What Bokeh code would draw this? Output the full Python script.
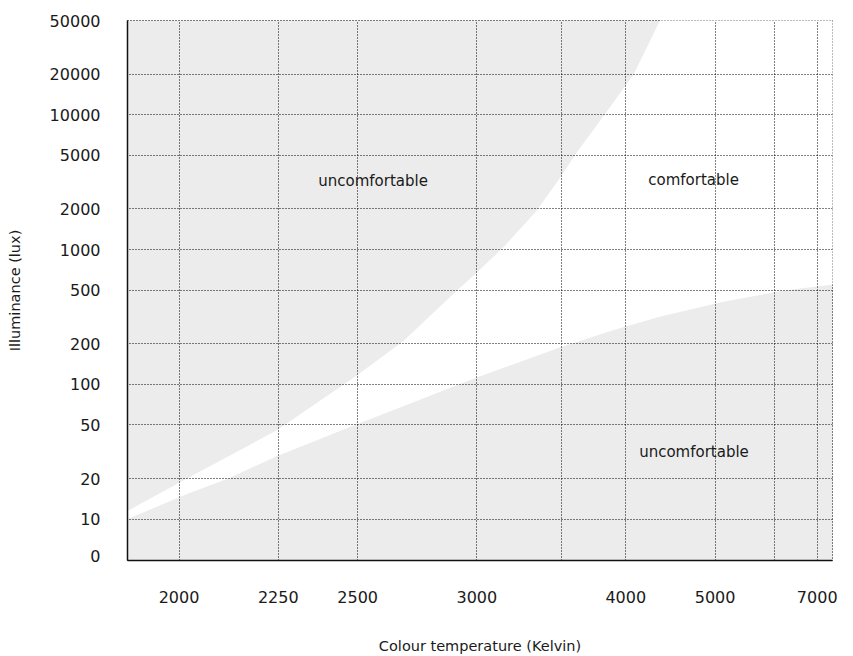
import numpy as np
from bokeh.plotting import figure
from bokeh.models import Range1d, FixedTicker, CustomJSTickFormatter, ColumnDataSource
from bokeh.core.properties import value
from bokeh.embed import file_html
from bokeh.resources import INLINE

# ---- data (colour temperature in Kelvin, illuminance in lux) ----
x_tick_kelvin = [2000, 2250, 2500, 3000, 4000, 5000, 7000]
x_grid_kelvin = [2000, 2250, 2500, 3000, 3500, 4000, 5000, 6000, 7000]
y_tick_lux = [10, 20, 50, 100, 200, 500, 1000, 2000, 5000, 10000, 20000, 50000]
y_bottom_lux = 4.93        # bottom of the axis
y_zero_label_lux = 5.35    # where the "0" label sits
x_span_kelvin = (1891, 7446)

# upper boundary of the comfortable region
upper_kelvin = [1850, 1891, 2017, 2115, 2246, 2488, 2571, 2672, 2897, 3002,
                3147, 3329, 3464, 3609, 3836, 4072, 4331, 4491]
upper_lux = [9.5, 11.5, 19.9, 29.0, 45.6, 112.7, 150.7, 210, 485, 678,
             1064, 1905, 3126, 5308, 10520, 19950, 49750, 84700]

# lower boundary of the comfortable region
lower_kelvin = [1850, 1891, 2017, 2115, 2246, 2488, 2660, 3002, 3491, 3903,
                4339, 5118, 6158, 6876, 7418, 7600]
lower_lux = [8.6, 10, 15.3, 19.9, 29.2, 49.7, 67.5, 112.7, 188, 254,
             319, 409, 494, 528, 547, 552]

region_labels = ["uncomfortable", "comfortable", "uncomfortable"]
region_kelvin = [2555, 4716, 4721]
region_lux = [3236, 3289, 31.6]


def mired(k):
    return 1e6 / np.asarray(k, dtype=float)


p = figure(width=845, height=657, output_backend="svg", toolbar_location=None,
           x_range=Range1d(1e6 / x_span_kelvin[0], 1e6 / x_span_kelvin[1]),
           y_range=Range1d(y_bottom_lux, 50000), y_axis_type="log",
           min_border_left=127, min_border_right=13, min_border_top=20,
           min_border_bottom=97,
           x_axis_label="Colour temperature (Kelvin)",
           y_axis_label="Illuminance (lux)")

p.background_fill_color = "#ECECEC"
p.border_fill_color = "white"
p.outline_line_color = "black"
p.outline_line_dash = "1 2"
p.outline_line_width = 1

# comfortable band (white) between the two curves
band_x = np.concatenate([mired(lower_kelvin), mired([lower_kelvin[-1]]),
                         mired(upper_kelvin[::-1])])
band_y = list(lower_lux) + [upper_lux[-1]] + list(upper_lux[::-1])
p.patch(band_x, band_y, fill_color="white", line_color=None, level="image")

# grids
p.xgrid.ticker = FixedTicker(ticks=list(mired(x_grid_kelvin)))
p.ygrid.ticker = FixedTicker(ticks=y_tick_lux)
for g in (p.xgrid[0], p.ygrid[0]):
    g.grid_line_color = "black"
    g.grid_line_dash = "1 2"
    g.grid_line_width = 1
    g.grid_line_alpha = 1.0

# axes
p.xaxis.ticker = FixedTicker(ticks=list(mired(x_tick_kelvin)))
p.xaxis.formatter = CustomJSTickFormatter(
    code="return String(Math.round(1e6 / tick / 50) * 50);")
p.yaxis.ticker = FixedTicker(ticks=[y_zero_label_lux] + y_tick_lux)
p.yaxis.formatter = CustomJSTickFormatter(
    code="return tick < 9 ? '0' : String(Math.round(tick));")

for ax in (p.xaxis[0], p.yaxis[0]):
    ax.axis_line_color = "#111111"
    ax.axis_line_width = 1.5
    ax.major_tick_line_color = None
    ax.minor_tick_line_color = None
    ax.major_tick_out = 0
    ax.major_tick_in = 0
    ax.minor_tick_out = 0
    ax.minor_tick_in = 0
    ax.major_label_text_font = "DejaVu Sans"
    ax.major_label_text_font_size = "16px"
    ax.major_label_text_color = "#1a1a1a"
    ax.axis_label_text_font = "DejaVu Sans"
    ax.axis_label_text_font_size = "14.5px"
    ax.axis_label_text_font_style = "normal"
    ax.axis_label_text_color = "#1a1a1a"

p.xaxis.major_label_standoff = 30
p.xaxis.axis_label_standoff = 32
p.yaxis.major_label_standoff = 27
p.yaxis.axis_label_standoff = 24

# region labels
src = ColumnDataSource(dict(x=mired(region_kelvin), y=region_lux, t=region_labels))
p.text(x="x", y="y", text="t", source=src, text_font=value("DejaVu Sans"),
       text_font_size="15px", text_align="center", text_baseline="middle",
       text_color="#1a1a1a")

open("out.html", "w").write(file_html(p, INLINE))
